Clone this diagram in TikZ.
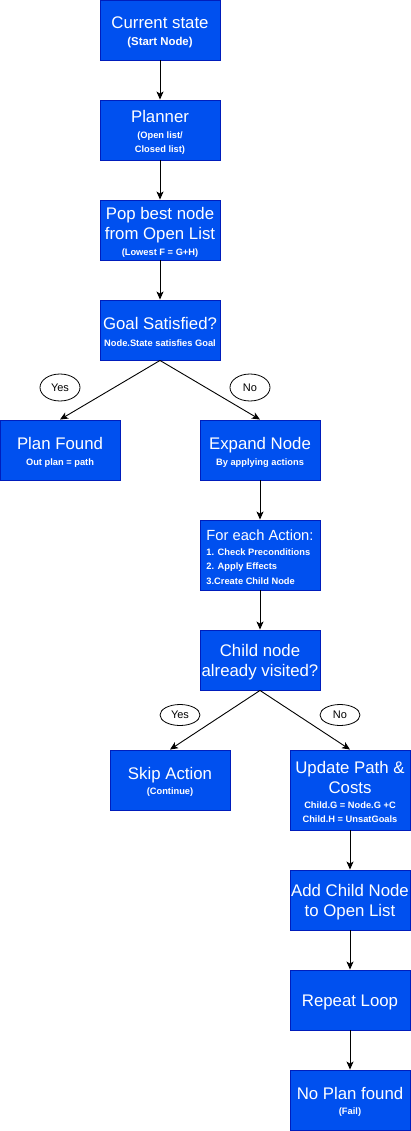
\documentclass[tikz,border=0pt]{standalone}
\usepackage{fontspec}
\setmainfont{Liberation Sans}
\usetikzlibrary{arrows.meta,shapes.geometric}
\definecolor{bfill}{HTML}{0050EF}
\definecolor{bstroke}{HTML}{001DBC}
\newcommand{\subt}[1]{{\fontsize{9.3}{14}\selectfont\bfseries #1}}
\newcommand{\subL}[1]{{\fontsize{11.4}{14}\selectfont\bfseries #1}}
\newcommand{\fl}{\rule{0pt}{16.3pt}}
\newcommand{\flb}{\rule{0pt}{14.7pt}}
\tikzset{
  box/.style={draw=bstroke, fill=bfill, text=white, minimum width=120pt,
    minimum height=60pt, inner sep=0pt, line width=0.9pt, align=center,
    font=\fontsize{16.8}{20}\selectfont},
  lab/.style={draw=black, fill=white, ellipse, minimum width=40pt,
    minimum height=27pt, inner sep=0pt, line width=0.8pt,
    font=\fontsize{11}{13}\selectfont},
  conn/.style={draw=black, line width=0.9pt, -{Stealth[length=8pt,width=7pt,inset=2pt]}}
}
\begin{document}
\begin{tikzpicture}[x=1pt,y=-1pt]
\useasboundingbox (0,0) rectangle (411,1131);
\node[box] (cur) at (160,30) {\fl Current state\\[-2.9pt]\subL{(Start Node)}};
\node[box] (plan) at (160,130) {\fl Planner\\[-3.7pt]\subt{(Open list/}\\[-6pt]\subt{Closed list)}};
\node[box] (pop) at (160,230) {\fl Pop best node\\from Open List\\[-3.7pt]\subt{(Lowest F = G+H)}};
\node[box] (goal) at (160,330) {\fl Goal Satisfied?\\[-3.7pt]\subt{Node.State satisfies Goal}};
\node[box] (found) at (60,450) {\fl Plan Found\\[-3.7pt]\subt{Out plan = path}};
\node[box] (expand) at (260,450) {\fl Expand Node\\[-3.7pt]\subt{By applying actions}};
\node[box, minimum height=70pt, align=left, font=\fontsize{14.7}{20}\selectfont] (foreach) at (260,555)
  {\flb For each Action:\\[-5pt]\subt{1. Check Preconditions}\\[-5.5pt]\subt{2. Apply Effects}\\[-5.5pt]\subt{3.Create Child Node}};
\node[box] (child) at (260,660) {\fl Child node\\already visited?};
\node[box] (skip) at (170,780) {\fl Skip Action\\[-4.7pt]\subt{(Continue)}};
\node[box, minimum height=80pt] (update) at (350,790)
  {\fl Update Path \&\\Costs\\[-5.7pt]\subt{Child.G = Node.G +C}\\[-6pt]\subt{Child.H = UnsatGoals}};
\node[box] (add) at (350,900) {\fl Add Child Node\\to Open List};
\node[box] (repeat) at (350,1000) {\fl Repeat Loop};
\node[box] (noplan) at (350,1100) {\fl No Plan found\\[-4.7pt]\subt{(Fail)}};

\draw[conn] (cur.south) -- (plan.north);
\draw[conn] (plan.south) -- (pop.north);
\draw[conn] (pop.south) -- (goal.north);
\draw[conn] (goal.south) -- (found.north);
\draw[conn] (goal.south) -- (expand.north);
\draw[conn] (expand.south) -- (foreach.north);
\draw[conn] (foreach.south) -- (child.north);
\draw[conn] (child.south) -- (skip.north);
\draw[conn] (child.south) -- (update.north);
\draw[conn] (update.south) -- (add.north);
\draw[conn] (add.south) -- (repeat.north);
\draw[conn] (repeat.south) -- (noplan.north);

\node[lab] (yes1) at (60,387.5) {Yes};
\node[lab] (no1) at (250,387.5) {No};
\node[lab, minimum height=21pt] (yes2) at (180,715) {Yes};
\node[lab, minimum height=21pt] (no2) at (340,715) {No};
\end{tikzpicture}
\end{document}
